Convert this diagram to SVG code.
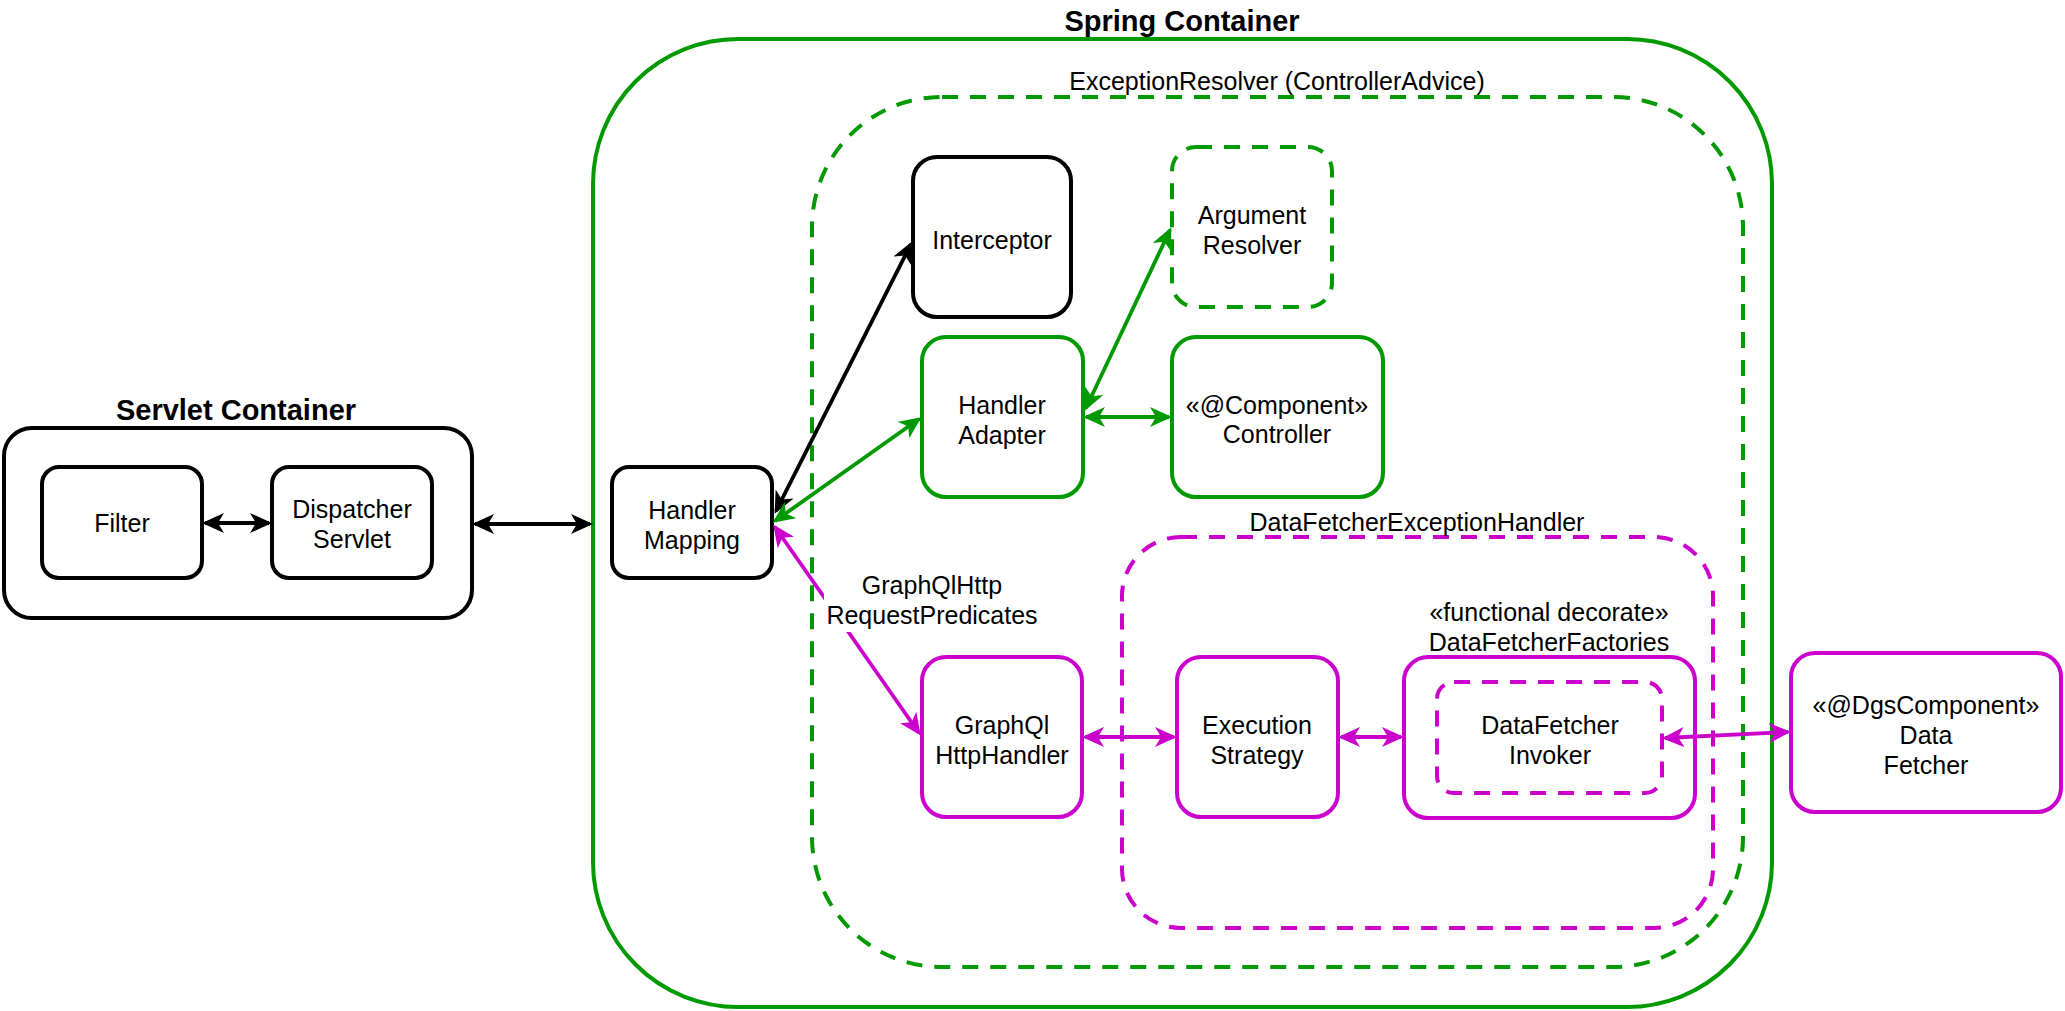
<svg xmlns="http://www.w3.org/2000/svg" width="2065" height="1011" viewBox="0 0 2065 1011">
<style>
text{font-family:"Liberation Sans",Arial,sans-serif;font-size:25px;fill:#000;text-anchor:middle}
.title{font-weight:bold;font-size:29px}
.box{fill:#fff;stroke-width:4}
.blk{stroke:#000}
.grn{stroke:#009900}
.mag{stroke:#CC00CC}
.dash{fill:none;stroke-dasharray:16 12}
.c{fill:none;stroke-width:3.8}
.cb{stroke:#000;marker-start:url(#ab);marker-end:url(#ab)}
.cg{stroke:#009900;marker-start:url(#ag);marker-end:url(#ag)}
.cm{stroke:#CC00CC;marker-start:url(#am);marker-end:url(#am)}
</style>
<defs>
<marker id="ab" viewBox="0 0 22 20" refX="19" refY="10" markerWidth="22" markerHeight="20" markerUnits="userSpaceOnUse" orient="auto-start-reverse"><path d="M0,0 L22,10 L0,20 L6,10 Z" fill="#000"/></marker>
<marker id="ag" viewBox="0 0 22 20" refX="19" refY="10" markerWidth="22" markerHeight="20" markerUnits="userSpaceOnUse" orient="auto-start-reverse"><path d="M0,0 L22,10 L0,20 L6,10 Z" fill="#009900"/></marker>
<marker id="am" viewBox="0 0 22 20" refX="19" refY="10" markerWidth="22" markerHeight="20" markerUnits="userSpaceOnUse" orient="auto-start-reverse"><path d="M0,0 L22,10 L0,20 L6,10 Z" fill="#CC00CC"/></marker>
</defs>
<rect width="2065" height="1011" fill="#fff"/>

<g id="servlet-container">
<rect class="box blk" x="4" y="428" width="468" height="190" rx="28" ry="28"/>
<text class="title" x="236" y="420">Servlet Container</text>
</g>
<g id="spring-container">
<rect class="box grn" x="593" y="39" width="1179" height="968" rx="145" ry="145"/>
<text class="title" x="1182" y="31">Spring Container</text>
</g>
<g id="exception-resolver">
<rect class="dash grn" stroke-width="4" x="812" y="97" width="931" height="870" rx="130" ry="130"/>
<text x="1277" y="90">ExceptionResolver (ControllerAdvice)</text>
</g>
<g id="datafetcher-exception-handler">
<rect class="dash mag" stroke-width="4" x="1122" y="537" width="591" height="391" rx="59" ry="59"/>
<text x="1417" y="531">DataFetcherExceptionHandler</text>
</g>

<g id="filter">
<rect class="box blk" x="42" y="467" width="160" height="111" rx="17" ry="17"/>
<text x="122" y="532">Filter</text>
</g>
<g id="dispatcher-servlet">
<rect class="box blk" x="272" y="467" width="160" height="111" rx="17" ry="17"/>
<text x="352" y="518">Dispatcher</text>
<text x="352" y="548">Servlet</text>
</g>
<g id="handler-mapping">
<rect class="box blk" x="612" y="467" width="160" height="111" rx="17" ry="17"/>
<text x="692" y="519">Handler</text>
<text x="692" y="549">Mapping</text>
</g>
<g id="interceptor">
<rect class="box blk" x="913" y="157" width="158" height="160" rx="24" ry="24"/>
<text x="992" y="249">Interceptor</text>
</g>
<g id="argument-resolver">
<rect class="dash grn" stroke-width="4" x="1172" y="147" width="160" height="160" rx="24" ry="24"/>
<text x="1252" y="224">Argument</text>
<text x="1252" y="254">Resolver</text>
</g>
<g id="handler-adapter">
<rect class="box grn" x="922" y="337" width="161" height="160" rx="24" ry="24"/>
<text x="1002" y="414">Handler</text>
<text x="1002" y="444">Adapter</text>
</g>
<g id="controller">
<rect class="box grn" x="1172" y="337" width="211" height="160" rx="24" ry="24"/>
<text x="1277" y="414">«@Component»</text>
<text x="1277" y="443">Controller</text>
</g>
<g id="graphql-http-handler">
<rect class="box mag" x="922" y="657" width="160" height="160" rx="24" ry="24"/>
<text x="1002" y="734">GraphQl</text>
<text x="1002" y="764">HttpHandler</text>
</g>
<g id="execution-strategy">
<rect class="box mag" x="1177" y="657" width="161" height="160" rx="24" ry="24"/>
<text x="1257" y="734">Execution</text>
<text x="1257" y="764">Strategy</text>
</g>
<g id="datafetcher-factories">
<rect class="box mag" x="1404" y="657" width="291" height="161" rx="24" ry="24"/>
<text x="1549" y="621">«functional decorate»</text>
<text x="1549" y="651">DataFetcherFactories</text>
</g>
<g id="datafetcher-invoker">
<rect class="dash mag" stroke-width="4" x="1437" y="682" width="225" height="111" rx="17" ry="17"/>
<text x="1550" y="734">DataFetcher</text>
<text x="1550" y="764">Invoker</text>
</g>
<g id="data-fetcher">
<rect class="box mag" x="1791" y="653" width="270" height="159" rx="24" ry="24"/>
<text x="1926" y="714">«@DgsComponent»</text>
<text x="1926" y="744">Data</text>
<text x="1926" y="774">Fetcher</text>
</g>

<g id="connectors">
<line class="c cb" x1="205" y1="523" x2="269" y2="523"/>
<line class="c cb" x1="475" y1="524" x2="590" y2="524"/>
<line class="c cb" x1="776" y1="511" x2="911" y2="244"/>
<line class="c cg" x1="775" y1="521" x2="919" y2="419"/>
<line class="c cm" x1="775" y1="527" x2="919" y2="733"/>
<line class="c cg" x1="1086" y1="408" x2="1170" y2="230"/>
<line class="c cg" x1="1086" y1="417" x2="1169" y2="417"/>
<line class="c cm" x1="1085" y1="737" x2="1174" y2="737"/>
<line class="c cm" x1="1341" y1="737" x2="1401" y2="737"/>
<line class="c cm" x1="1665" y1="738" x2="1788" y2="732"/>
<rect x="824" y="568" width="216" height="64" fill="#fff"/>
<text x="932" y="594">GraphQlHttp</text>
<text x="932" y="624">RequestPredicates</text>
</g>
</svg>
